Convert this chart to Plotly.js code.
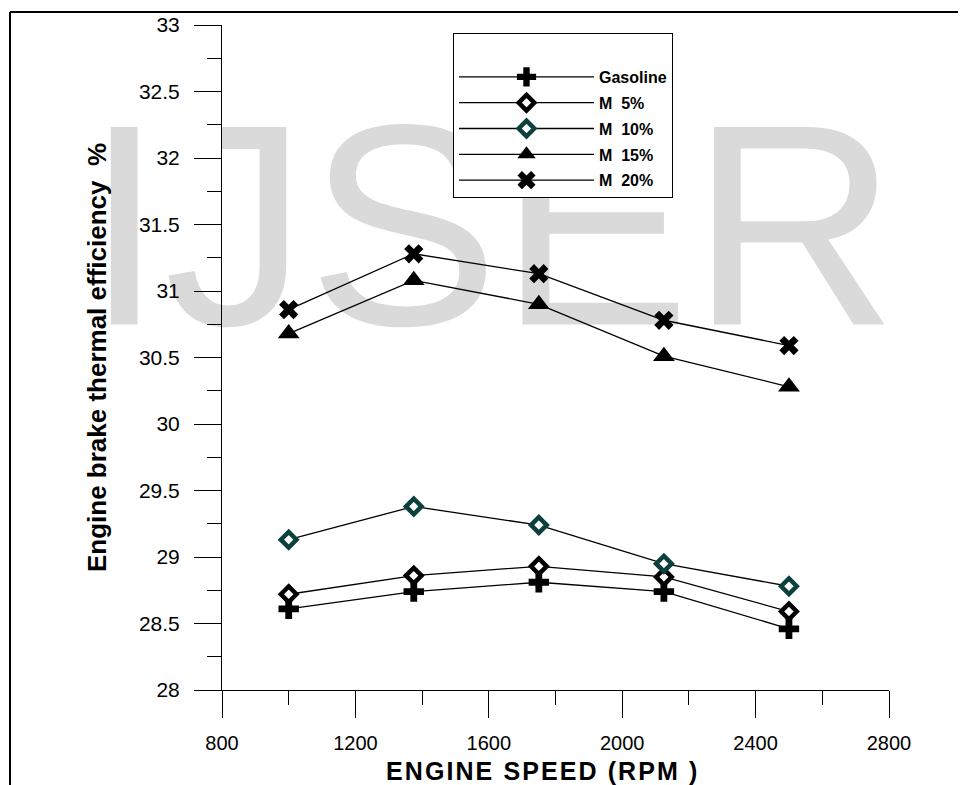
<!DOCTYPE html>
<html>
<head>
<meta charset="utf-8">
<script src="https://cdn.plot.ly/plotly-3.0.1.min.js"></script>
<style>html,body{margin:0;padding:0;background:#fff;}#chart{width:969px;height:785px;}</style>
</head>
<body>
<div id="chart"></div>
<script>
// Engine speed (RPM)
const speeds = [1000, 1375, 1750, 2125, 2500];
// Engine brake thermal efficiency (%)
const gasoline = [28.61, 28.74, 28.81, 28.74, 28.46];
const m5  = [28.72, 28.86, 28.93, 28.85, 28.59];
const m10 = [29.13, 29.38, 29.24, 28.95, 28.78];
const m15 = [30.68, 31.08, 30.90, 30.51, 30.28];
const m20 = [30.86, 31.28, 31.13, 30.78, 30.59];
const seriesNames = ['Gasoline', 'M\u00a0\u00a05%', 'M\u00a0\u00a010%', 'M\u00a0\u00a015%', 'M\u00a0\u00a020%'];
const xTickVals = [800, 1200, 1600, 2000, 2400, 2800];
const yTickVals = [28, 28.5, 29, 29.5, 30, 30.5, 31, 31.5, 32, 32.5, 33];
const xTitle = 'ENGINE SPEED (RPM )';

const FONT = 'Liberation Sans, Arial, Helvetica, sans-serif';
const lineStyle = {color: '#000', width: 1.3};
// letter-spaced title, as in the reference
const spaced = s => Array.from(s).join('\u200a');

const traces = [
  {x: speeds, y: gasoline, name: seriesNames[0], legendgroup: 'g0', mode: 'lines+markers', line: lineStyle,
   marker: {symbol: 'cross', size: 17, color: '#000', line: {width: 0}}},
  {x: speeds, y: m5, name: seriesNames[1], legendgroup: 'g1', mode: 'lines+markers', line: lineStyle,
   marker: {symbol: 'diamond', size: 12, color: '#fff', line: {width: 4.5, color: '#000'}}},
  {x: speeds, y: m10, name: seriesNames[2], legendgroup: 'g2', mode: 'lines+markers', line: lineStyle,
   marker: {symbol: 'diamond', size: 12, color: '#fff', line: {width: 4.5, color: '#0b403c'}}},
  {x: speeds, y: m15, name: seriesNames[3], legendgroup: 'g3', mode: 'lines+markers', line: lineStyle,
   marker: {symbol: 'triangle-up', size: 19, color: '#000', line: {width: 0}}},
  {x: speeds, y: m20, name: seriesNames[4], legendgroup: 'g4', mode: 'lines+markers', line: lineStyle,
   marker: {symbol: 'x', size: 17, color: '#000', line: {width: 0}}}
];

// pixel -> paper helpers for decoration placement
const L = 222, R = 80, T = 25, B = 95, W = 969, H = 785;
const pw = W - L - R, ph = H - T - B;
const px = v => (v - L) / pw;
const py = v => (H - B - v) / ph;

const layout = {
  width: W, height: H,
  margin: {l: L, r: R, t: T, b: B, pad: 0},
  paper_bgcolor: '#fff',
  plot_bgcolor: 'rgba(0,0,0,0)',
  font: {family: FONT, color: '#000'},
  showlegend: true,
  legend: {
    x: px(453), y: py(33), xanchor: 'left', yanchor: 'top',
    bgcolor: '#fff', bordercolor: '#000', borderwidth: 1,
    font: {family: FONT, size: 16, weight: 'bold', color: '#000'},
    itemwidth: 135,
    title: {text: ' ', font: {size: 20}},
    traceorder: 'grouped',
    tracegroupgap: 2
  },
  xaxis: {
    range: [800, 2800], tickmode: 'array', tickvals: xTickVals,
    ticks: 'outside', ticklen: 27, tickwidth: 1, tickcolor: '#000',
    showline: true, linecolor: '#000', linewidth: 1,
    showgrid: false, zeroline: false,
    tickfont: {family: FONT, size: 20, color: '#000'},
    ticklabelstandoff: 8,
    minor: {dtick: 200, tick0: 800, ticks: 'outside', ticklen: 14, tickwidth: 1, tickcolor: '#000', showgrid: false}
  },
  yaxis: {
    range: [28, 33], tickmode: 'array', tickvals: yTickVals,
    ticks: 'outside', ticklen: 27, tickwidth: 1, tickcolor: '#000',
    showline: true, linecolor: '#000', linewidth: 1,
    showgrid: false, zeroline: false,
    tickfont: {family: FONT, size: 21, color: '#000'},
    ticklabelstandoff: 10,
    minor: {dtick: 0.25, tick0: 28, ticks: 'outside', ticklen: 14, tickwidth: 1, tickcolor: '#000', showgrid: false},
    title: {text: 'Engine brake thermal efficiency\u00a0\u00a0%', font: {family: FONT, size: 26, weight: 'bold', color: '#000'}, standoff: 24}
  },
  annotations: [
    {text: spaced(xTitle), xref: 'paper', yref: 'paper', x: px(541), y: py(771),
     xanchor: 'center', yanchor: 'middle', showarrow: false, borderpad: 0,
     font: {family: FONT, size: 25, weight: 'bold', color: '#000'}}
  ],
  shapes: [
    // watermark
    {type: 'rect', xref: 'paper', yref: 'paper', layer: 'below',
     x0: px(91), x1: px(891), y0: py(333), y1: py(63),
     line: {width: 0}, fillcolor: 'rgba(0,0,0,0)',
     label: {text: 'IJSER', textposition: 'middle center',
             font: {family: FONT, size: 287, color: '#dadada'}}},
    // page frame
    {type: 'line', xref: 'paper', yref: 'paper', x0: px(10), x1: px(10), y0: py(12), y1: py(790),
     line: {color: '#000', width: 2}},
    {type: 'line', xref: 'paper', yref: 'paper', x0: px(10), x1: px(958), y0: py(12), y1: py(12),
     line: {color: '#000', width: 2}}
  ]
};

Plotly.newPlot('chart', traces, layout, {displayModeBar: false, staticPlot: true});
</script>
</body>
</html>
